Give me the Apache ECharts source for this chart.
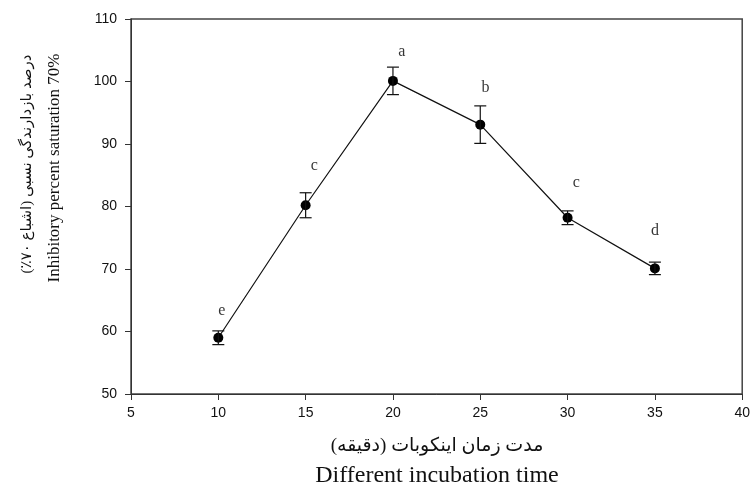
<!DOCTYPE html>
<html>
<head>
<meta charset="utf-8">
<script src="https://cdn.jsdelivr.net/npm/echarts@6/dist/echarts.min.js"></script>
<style>
  html, body { margin: 0; padding: 0; background: #fff; }
  #chart { width: 753px; height: 493px; }
</style>
</head>
<body>
<div id="chart"></div>
<script>
// incubation time (min) and inhibition values
var times = [10, 15, 20, 25, 30, 35];
var inhibition = [59.0, 80.2, 100.1, 93.1, 78.2, 70.1];
var errors = [1.1, 2.0, 2.2, 3.0, 1.1, 1.0];

// significance letters, placed in data units
var letters = ['e', 'c', 'a', 'b', 'c', 'd'];
var letterX = [10.2, 15.5, 20.5, 25.3, 30.5, 35.0];
var letterY = [63.3, 86.5, 104.8, 99.0, 83.8, 76.1];

var xTicks = [5, 10, 15, 20, 25, 30, 35, 40];
var yTicks = [50, 60, 70, 80, 90, 100, 110];

var yTitleFa = 'درصد بازدارندگی نسبی (اشباع ۷۰٪)';
var yTitleEn = 'Inhibitory percent saturation 70%';
var xTitleFa = 'مدت زمان اینکوبات (دقیقه)';
var xTitleEn = 'Different incubation time';

var serif = "'Liberation Serif', 'DejaVu Sans', serif";
var sans = "'Liberation Sans', Arial, sans-serif";

var chart = echarts.init(document.getElementById('chart'));

var lineData = times.map(function (t, i) { return [t, inhibition[i]]; });
var errData = times.map(function (t, i) { return [t, inhibition[i] - errors[i], inhibition[i] + errors[i]]; });
var letterData = letters.map(function (l, i) { return { value: [letterX[i], letterY[i]], name: l }; });

function titleText(x, y, text, size, rot) {
    return {
        type: 'text', x: x, y: y, rotation: rot || 0, silent: true,
        style: {
            text: text, fill: '#111', fontSize: size, fontFamily: serif,
            textAlign: 'center', textVerticalAlign: 'middle',
            align: 'center', verticalAlign: 'middle'
        }
    };
}

var option = {
    animation: false,
    backgroundColor: '#fff',
    grid: {
        left: 131, top: 19, width: 613, height: 375,
        show: true, borderColor: '#444', borderWidth: 1.5, backgroundColor: 'transparent'
    },
    xAxis: {
        type: 'value', min: xTicks[0], max: xTicks[xTicks.length - 1], interval: 5,
        axisLine: { show: true, onZero: false, lineStyle: { color: '#333', width: 1 } },
        axisTick: { show: true, length: 6, inside: false, lineStyle: { color: '#333' } },
        axisLabel: { color: '#111', fontSize: 14, fontFamily: sans, margin: 12 },
        splitLine: { show: false }
    },
    yAxis: {
        type: 'value', min: yTicks[0], max: yTicks[yTicks.length - 1], interval: 10,
        axisLine: { show: true, onZero: false, lineStyle: { color: '#333', width: 1 } },
        axisTick: { show: true, length: 6, inside: false, lineStyle: { color: '#333' } },
        axisLabel: { color: '#111', fontSize: 14, fontFamily: sans, margin: 14 },
        splitLine: { show: false }
    },
    series: [
        {
            type: 'line', data: lineData, z: 3,
            symbol: 'circle', symbolSize: 10,
            itemStyle: { color: '#000' },
            lineStyle: { color: '#111', width: 1.2 }
        },
        {
            type: 'custom', data: errData, z: 4,
            renderItem: function (params, api) {
                var x = api.value(0);
                var lo = api.coord([x, api.value(1)]);
                var hi = api.coord([x, api.value(2)]);
                var w = 6;
                var st = { stroke: '#111', lineWidth: 1.2 };
                return {
                    type: 'group',
                    children: [
                        { type: 'line', shape: { x1: lo[0], y1: lo[1], x2: hi[0], y2: hi[1] }, style: st },
                        { type: 'line', shape: { x1: lo[0] - w, y1: lo[1], x2: lo[0] + w, y2: lo[1] }, style: st },
                        { type: 'line', shape: { x1: hi[0] - w, y1: hi[1], x2: hi[0] + w, y2: hi[1] }, style: st }
                    ]
                };
            }
        },
        {
            type: 'scatter', data: letterData, symbol: 'circle', symbolSize: 1, z: 5,
            itemStyle: { color: 'rgba(0,0,0,0)' },
            label: {
                show: true, position: 'inside', formatter: '{b}',
                color: '#000', fontSize: 16, fontFamily: serif
            }
        }
    ],
    graphic: [
        titleText(27, 164, yTitleFa, 15, Math.PI / 2),
        titleText(55, 168, yTitleEn, 17, Math.PI / 2),
        titleText(437, 446, xTitleFa, 19),
        titleText(437, 476, xTitleEn, 24)
    ]
};

chart.setOption(option);
</script>
</body>
</html>
